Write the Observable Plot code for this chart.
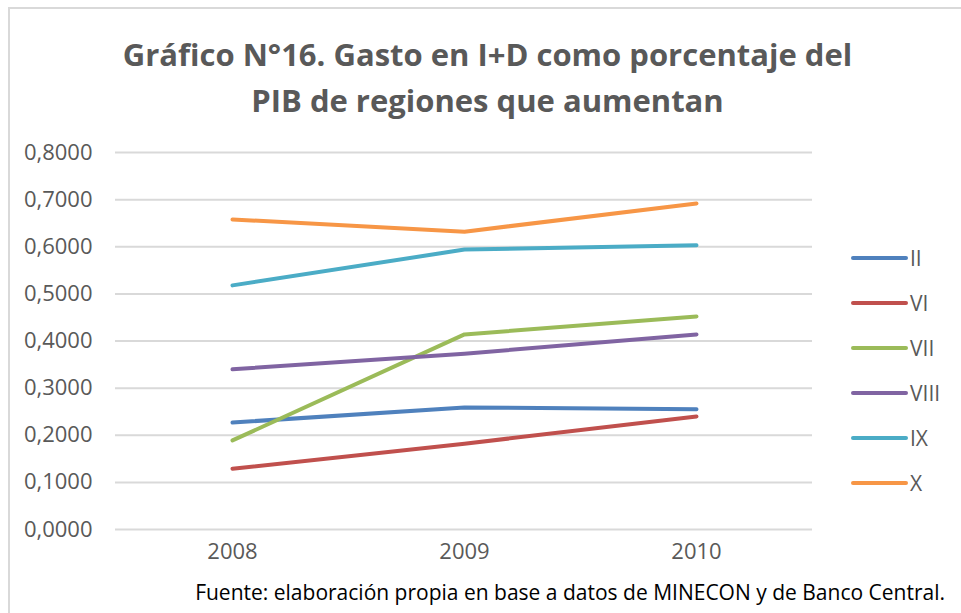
<!DOCTYPE html>
<html><head><meta charset="utf-8">
<script src="https://cdn.jsdelivr.net/npm/d3@7"></script>
<script src="https://cdn.jsdelivr.net/npm/@observablehq/plot@0.6"></script>
<style>
body{margin:0;background:#fff;}
#wrap{position:relative;width:961px;height:613px;overflow:hidden;font-family:"Open Sans",sans-serif;}
#border{position:absolute;left:8px;top:7px;width:1000px;height:700px;border-left:2px solid #d9d9d9;border-top:2px solid #d9d9d9;}
#title{position:absolute;left:0;top:31px;width:975px;text-align:center;font-weight:700;font-size:31px;line-height:46px;color:#595959;}
#chart{position:absolute;left:0;top:0;}
#legend{position:absolute;left:851px;top:0;}
.li{position:absolute;left:0;width:110px;height:30px;}
.li svg{position:absolute;left:0;top:12px;}
.li span{position:absolute;left:59px;top:0;font-size:21px;line-height:30px;color:#595959;}
#caption{position:absolute;right:16px;top:578px;font-size:21px;line-height:28px;color:#000;}
</style></head>
<body>
<div id="wrap">
<div id="border"></div>
<div id="chart"></div>
<div id="title">Gráfico N°16. Gasto en I+D como porcentaje del<br>PIB de regiones que aumentan</div>
<div id="legend"></div>
<div id="caption">Fuente: elaboración propia en base a datos de MINECON y de Banco Central.</div>
</div>
<script>
const years = ["2008", "2009", "2010"];
const seriesNames = ["II", "VI", "VII", "VIII", "IX", "X"];
const seriesColors = ["#4F81BD", "#C0504D", "#9BBB59", "#8064A2", "#4BACC6", "#F79646"];
const II = [0.227, 0.259, 0.255];
const VI = [0.129, 0.182, 0.240];
const VII = [0.189, 0.414, 0.452];
const VIII = [0.340, 0.373, 0.414];
const IX = [0.518, 0.594, 0.603];
const X = [0.658, 0.632, 0.692];
const yTicks = [0, 0.1, 0.2, 0.3, 0.4, 0.5, 0.6, 0.7, 0.8];

const seriesValues = [II, VI, VII, VIII, IX, X];
const data = [];
seriesNames.forEach((s, i) => years.forEach((yr, j) => data.push({series: s, year: yr, value: seriesValues[i][j]})));

const chart = Plot.plot({
  width: 961, height: 613,
  marginLeft: 115, marginRight: 149, marginTop: 152, marginBottom: 84,
  style: {fontFamily: "Open Sans, sans-serif", fontSize: "22px", color: "#595959", background: "transparent", overflow: "visible"},
  x: {type: "point", domain: years, padding: 0.5, label: null},
  y: {domain: [0, 0.8], label: null},
  color: {domain: seriesNames, range: seriesColors},
  marks: [
    Plot.gridY(yTicks, {stroke: "#d9d9d9", strokeOpacity: 1, strokeWidth: 2}),
    Plot.axisY(yTicks, {tickSize: 0, tickPadding: 23, tickFormat: d => d.toFixed(4).replace(".", ","), label: null, fill: "#595959"}),
    Plot.axisX(years, {tickSize: 0, tickPadding: 14, label: null, fill: "#595959"}),
    Plot.line(data, {x: "year", y: "value", z: "series", stroke: "series", strokeWidth: 4, strokeLinecap: "round", strokeLinejoin: "round"})
  ]
});
document.getElementById("chart").appendChild(chart);

const legend = document.getElementById("legend");
const legendTops = 243;
seriesNames.forEach((s, i) => {
  const d = document.createElement("div");
  d.className = "li";
  d.style.top = (legendTops + i * 45) + "px";
  d.innerHTML = `<svg width="60" height="6"><line x1="2" y1="3" x2="55" y2="3" stroke="${seriesColors[i]}" stroke-width="4" stroke-linecap="round"/></svg><span>${s}</span>`;
  legend.appendChild(d);
});
</script>
</body></html>
